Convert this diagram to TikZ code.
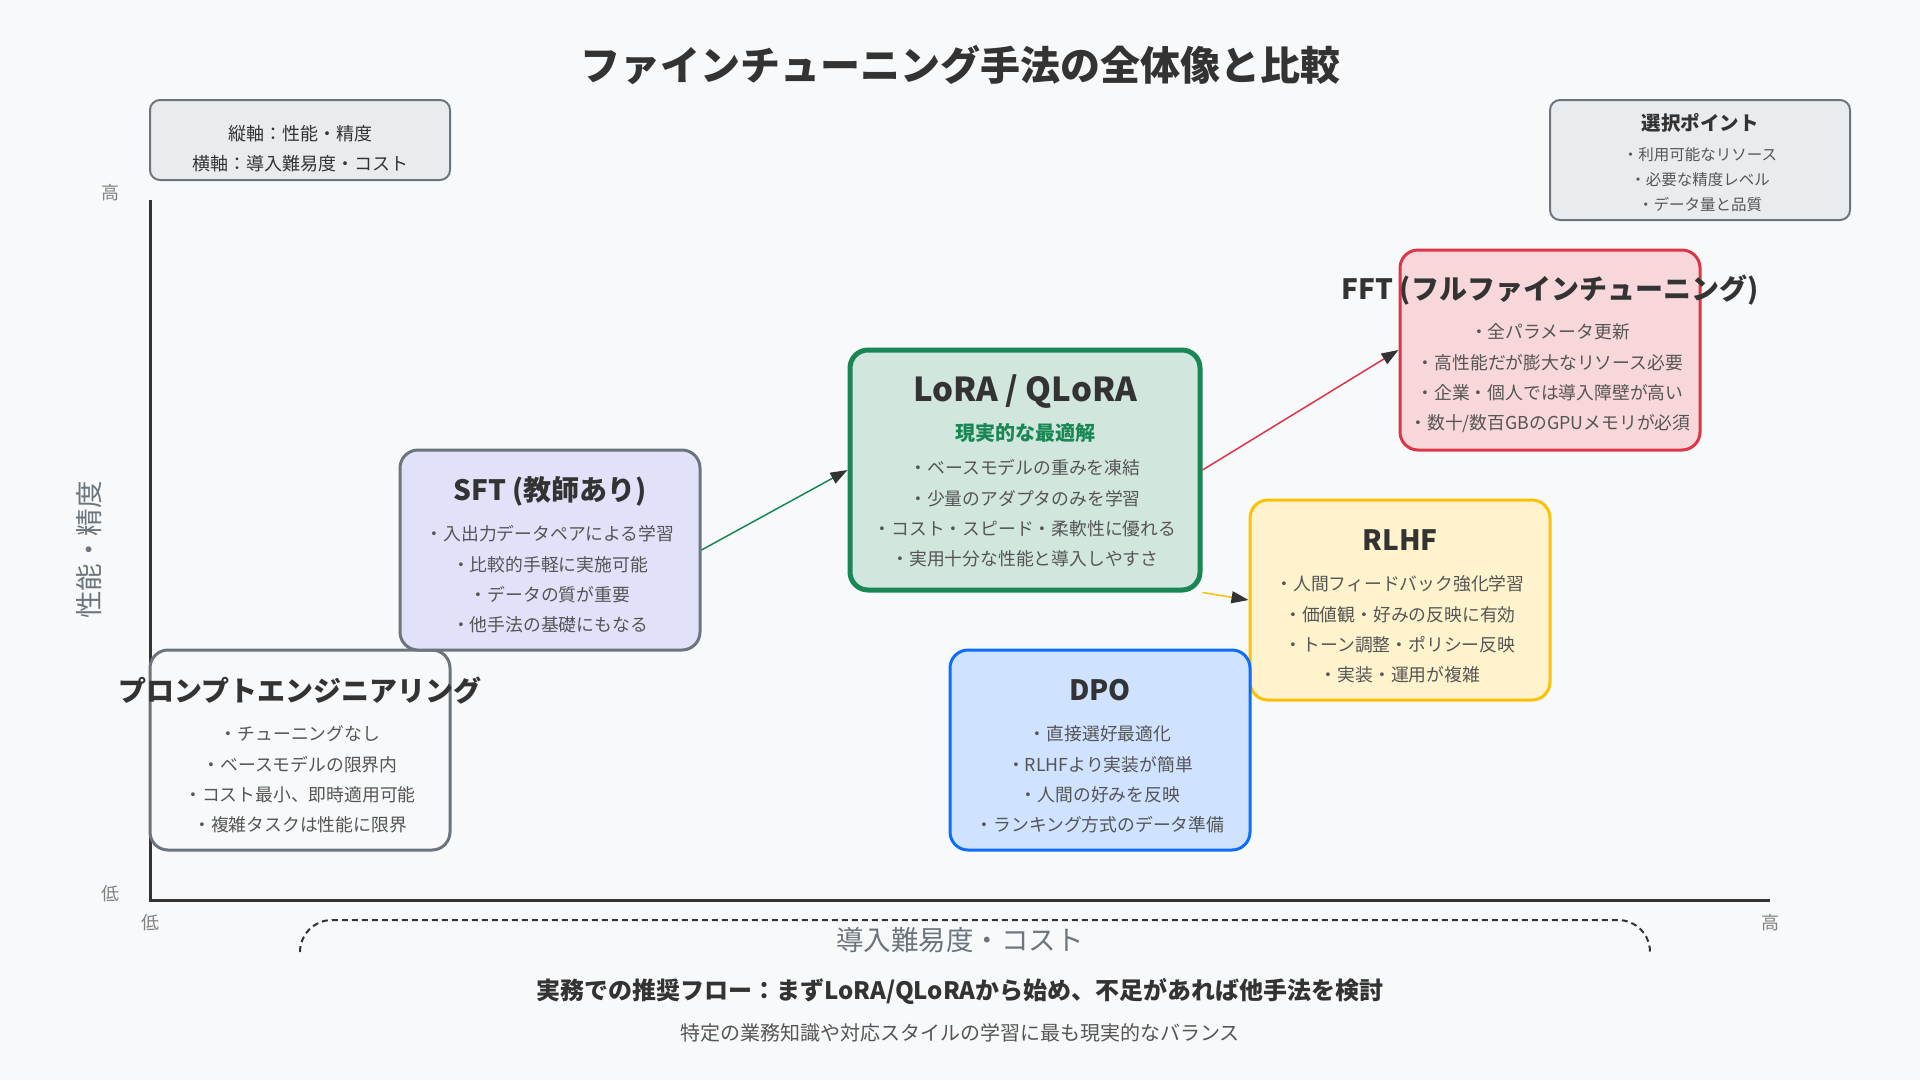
\documentclass[tikz,border=0pt]{standalone}
\usepackage{fontspec}
\setmainfont{Noto Sans CJK JP}
\usepackage{tikz}
\usetikzlibrary{arrows.meta,positioning}
\definecolor{bgfill}{HTML}{F8F9FA}
\definecolor{boxgray}{HTML}{6C757D}
\definecolor{infofill}{HTML}{E9ECEF}
\definecolor{sftfill}{HTML}{E1E1FA}
\definecolor{loragreen}{HTML}{198754}
\definecolor{lorafill}{HTML}{D1E7DD}
\definecolor{fftred}{HTML}{DC3545}
\definecolor{fftfill}{HTML}{F8D7DA}
\definecolor{rlhfyellow}{HTML}{FFC107}
\definecolor{rlhffill}{HTML}{FFF3CD}
\definecolor{dpoblue}{HTML}{0D6EFD}
\definecolor{dpofill}{HTML}{CFE2FF}
\definecolor{titlegray}{HTML}{333333}
\definecolor{listgray}{HTML}{555555}
\definecolor{ticktext}{HTML}{808080}
\tikzset{
	method/.style={
		rectangle, rounded corners=18pt, line width=3pt,
		minimum width=300pt, minimum height=200pt
	},
	%
	infobox/.style={
		rectangle, rounded corners=10pt, line width=2pt,
		draw=boxgray, fill=infofill, minimum width=300pt
	},
	%
	mtitle/.style={
		font=\fontsize{28}{34}\selectfont\bfseries, text=titlegray, inner sep=0pt
	},
	%
	mlist/.style={
		font=\fontsize{17.8}{30.3}\selectfont, text=listgray, align=center, inner sep=0pt
	},
	%
	flow/.style={
		line width=1.5pt, -{Triangle[length=17pt,width=12pt,color=titlegray]}
	},
	%
	axislabel/.style={
		font=\fontsize{27.5}{30}\selectfont, text=boxgray
	},
	%
	ticklabel/.style={
		font=\fontsize{18}{20}\selectfont, text=ticktext
	}
}

\begin{document}
\begin{tikzpicture}[x=1pt,y=-1pt]
\fill[bgfill] (0,0) rectangle (1920,1080);
\useasboundingbox (0,0) rectangle (1920,1080);

\node (title) [font=\fontsize{40}{44}\selectfont\bfseries, text=titlegray] at (960,65)
	{ファインチューニング手法の全体像と比較};

%info boxes
\node (axisinfo) [infobox, minimum height=80pt] at (300,140) {};
\node (axisinfotext) [mlist, font=\fontsize{18}{30}\selectfont, text=titlegray] at (300,149)
	{縦軸：性能・精度\\横軸：導入難易度・コスト};
\node (select) [infobox, minimum height=120pt] at (1700,160) {};
\node (selecttitle) [mtitle, font=\fontsize{19.5}{24}\selectfont\bfseries] at ([yshift=-24pt]select.north) {選択ポイント};
\node (selectlist) [mlist, font=\fontsize{15.5}{25}\selectfont] at ([yshift=-81pt]select.north)
	{・利用可能なリソース\\・必要な精度レベル\\・データ量と品質};

%axes
\coordinate (origin) at (150,900);
\coordinate (ytop) at (150,200);
\coordinate (xend) at (1770,900);
\draw[line width=3pt, titlegray] (ytop) -- (origin) -- (xend);
\node (yhigh) [ticklabel] at (110,193) {高};
\node (ylow) [ticklabel] at (110,894) {低};
\node (xlow) [ticklabel] at (150,923) {低};
\node (xhigh) [ticklabel] at (1770,923) {高};
\node (ylabel) [axislabel, rotate=90] at (89,550) {性能・精度};
\node (xlabel) [axislabel] at (960,940) {導入難易度・コスト};
\coordinate (bracel) at (300,952);
\coordinate (bracetop) at (975,920);
\coordinate (bracer) at (1650,952);
\draw[titlegray, line width=2pt, dash pattern=on 6pt off 4pt, rounded corners=32pt]
	(bracel) |- (bracetop) -| (bracer);

%compartments
\node (PE) [method, fill=bgfill, draw=boxgray] at (300,750) {};
\node (SFT) [method, fill=sftfill, draw=boxgray] at (550,550) {};
\node (LORA) [method, fill=lorafill, draw=loragreen, line width=5pt,
	minimum width=350pt, minimum height=240pt] at (1025,470) {};
\node (FFT) [method, fill=fftfill, draw=fftred] at (1550,350) {};
\node (RLHF) [method, fill=rlhffill, draw=rlhfyellow] at (1400,600) {};
\node (DPO) [method, fill=dpofill, draw=dpoblue] at (1100,750) {};

\node (PEtitle) [mtitle] at ([yshift=-42pt]PE.north) {プロンプトエンジニアリング};
\node (PElist) [mlist] at ([yshift=-131pt]PE.north)
	{・チューニングなし\\・ベースモデルの限界内\\・コスト最小、即時適用可能\\・複雑タスクは性能に限界};

\node (SFTtitle) [mtitle] at ([yshift=-43pt]SFT.north) {SFT (教師あり)};
\node (SFTlist) [mlist] at ([yshift=-131pt]SFT.north)
	{・入出力データペアによる学習\\・比較的手軽に実施可能\\・データの質が重要\\・他手法の基礎にもなる};

\node (LORAtitle) [mtitle, font=\fontsize{33}{38}\selectfont\bfseries] at ([yshift=-44pt]LORA.north) {LoRA / QLoRA};
\node (LORAsub) [mtitle, font=\fontsize{20}{24}\selectfont\bfseries, text=loragreen] at ([yshift=-85pt]LORA.north) {現実的な最適解};
\node (LORAlist) [mlist] at ([yshift=-166pt]LORA.north)
	{・ベースモデルの重みを凍結\\・少量のアダプタのみを学習\\・コスト・スピード・柔軟性に優れる\\・実用十分な性能と導入しやすさ};

\node (FFTtitle) [mtitle] at ([yshift=-42pt]FFT.north) {FFT (フルファインチューニング)};
\node (FFTlist) [mlist] at ([yshift=-130pt]FFT.north)
	{・全パラメータ更新\\・高性能だが膨大なリソース必要\\・企業・個人では導入障壁が高い\\・数十/数百GBのGPUメモリが必須};

\node (RLHFtitle) [mtitle] at ([yshift=-42pt]RLHF.north) {RLHF};
\node (RLHFlist) [mlist] at ([yshift=-131pt]RLHF.north)
	{・人間フィードバック強化学習\\・価値観・好みの反映に有効\\・トーン調整・ポリシー反映\\・実装・運用が複雑};

\node (DPOtitle) [mtitle] at ([yshift=-42pt]DPO.north) {DPO};
\node (DPOlist) [mlist] at ([yshift=-131pt]DPO.north)
	{・直接選好最適化\\・RLHFより実装が簡単\\・人間の好みを反映\\・ランキング方式のデータ準備};

%arrows
\draw[flow, draw=loragreen] (SFT.east) -- (LORA.west);
\draw[flow, draw=fftred] (LORA.east) -- (FFT.west);
\draw[flow, draw=rlhfyellow] (LORA.south east) -- (RLHF.west);

%footer
\node (flow) [mtitle, font=\fontsize{24}{28}\selectfont\bfseries] at (960,991)
	{実務での推奨フロー：まずLoRA/QLoRAから始め、不足があれば他手法を検討};
\node (balance) [mlist, font=\fontsize{20}{24}\selectfont] at (960,1033)
	{特定の業務知識や対応スタイルの学習に最も現実的なバランス};
\end{tikzpicture}
\end{document}
